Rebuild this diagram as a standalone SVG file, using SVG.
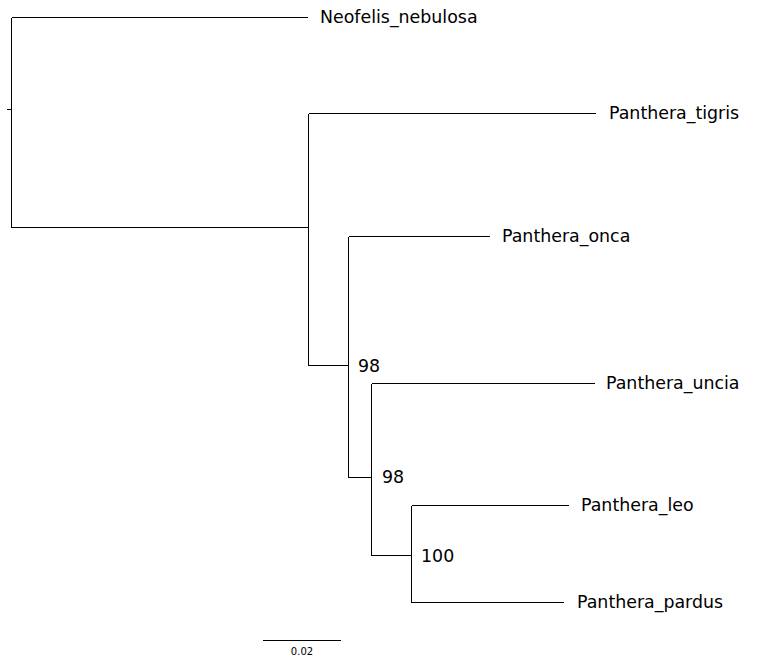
<svg xmlns="http://www.w3.org/2000/svg" width="773" height="664" viewBox="0 0 773 664">
<style>
.br{stroke:#000;stroke-width:1;fill:none;shape-rendering:crispEdges}
.lbl{font-family:"DejaVu Sans",sans-serif;font-size:17.4px;fill:#000}
.sc{font-family:"DejaVu Sans",sans-serif;font-size:10px;fill:#000}
</style>
<rect width="773" height="664" fill="#fff"/>
<g id="connectors">
<path class="br" d="M7 109.5H11.5M11.5 17.5V227.5M11.5 17.5H308M11.5 227.5H308.5M308.5 113.5V365.5M308.5 113.5H596M308.5 365.5H348.5M348.5 236.5V477.5M348.5 236.5H490M348.5 477.5H371.5M371.5 383.5V555.5M371.5 383.5H595M371.5 555.5H411.5M411.5 505.5V602.5M411.5 505.5H569M411.5 602.5H564"/>
</g>
<g id="Neofelis_nebulosa"><text class="lbl" x="320" y="23">Neofelis_nebulosa</text></g>
<g id="Panthera_tigris"><text class="lbl" x="609" y="119">Panthera_tigris</text></g>
<g id="Panthera_onca"><text class="lbl" x="502" y="242">Panthera_onca</text></g>
<g id="Panthera_uncia"><text class="lbl" x="606" y="389">Panthera_uncia</text></g>
<g id="Panthera_leo"><text class="lbl" x="581" y="511">Panthera_leo</text></g>
<g id="Panthera_pardus"><text class="lbl" x="577" y="608">Panthera_pardus</text></g>
<g id="support1"><text class="lbl" x="358" y="372">98</text></g>
<g id="support2"><text class="lbl" x="382" y="483">98</text></g>
<g id="support3"><text class="lbl" x="421" y="562">100</text></g>
<g id="scalebar">
<path class="br" d="M263 640.5H341"/>
<text class="sc" x="302" y="655" text-anchor="middle">0.02</text>
</g>
</svg>
